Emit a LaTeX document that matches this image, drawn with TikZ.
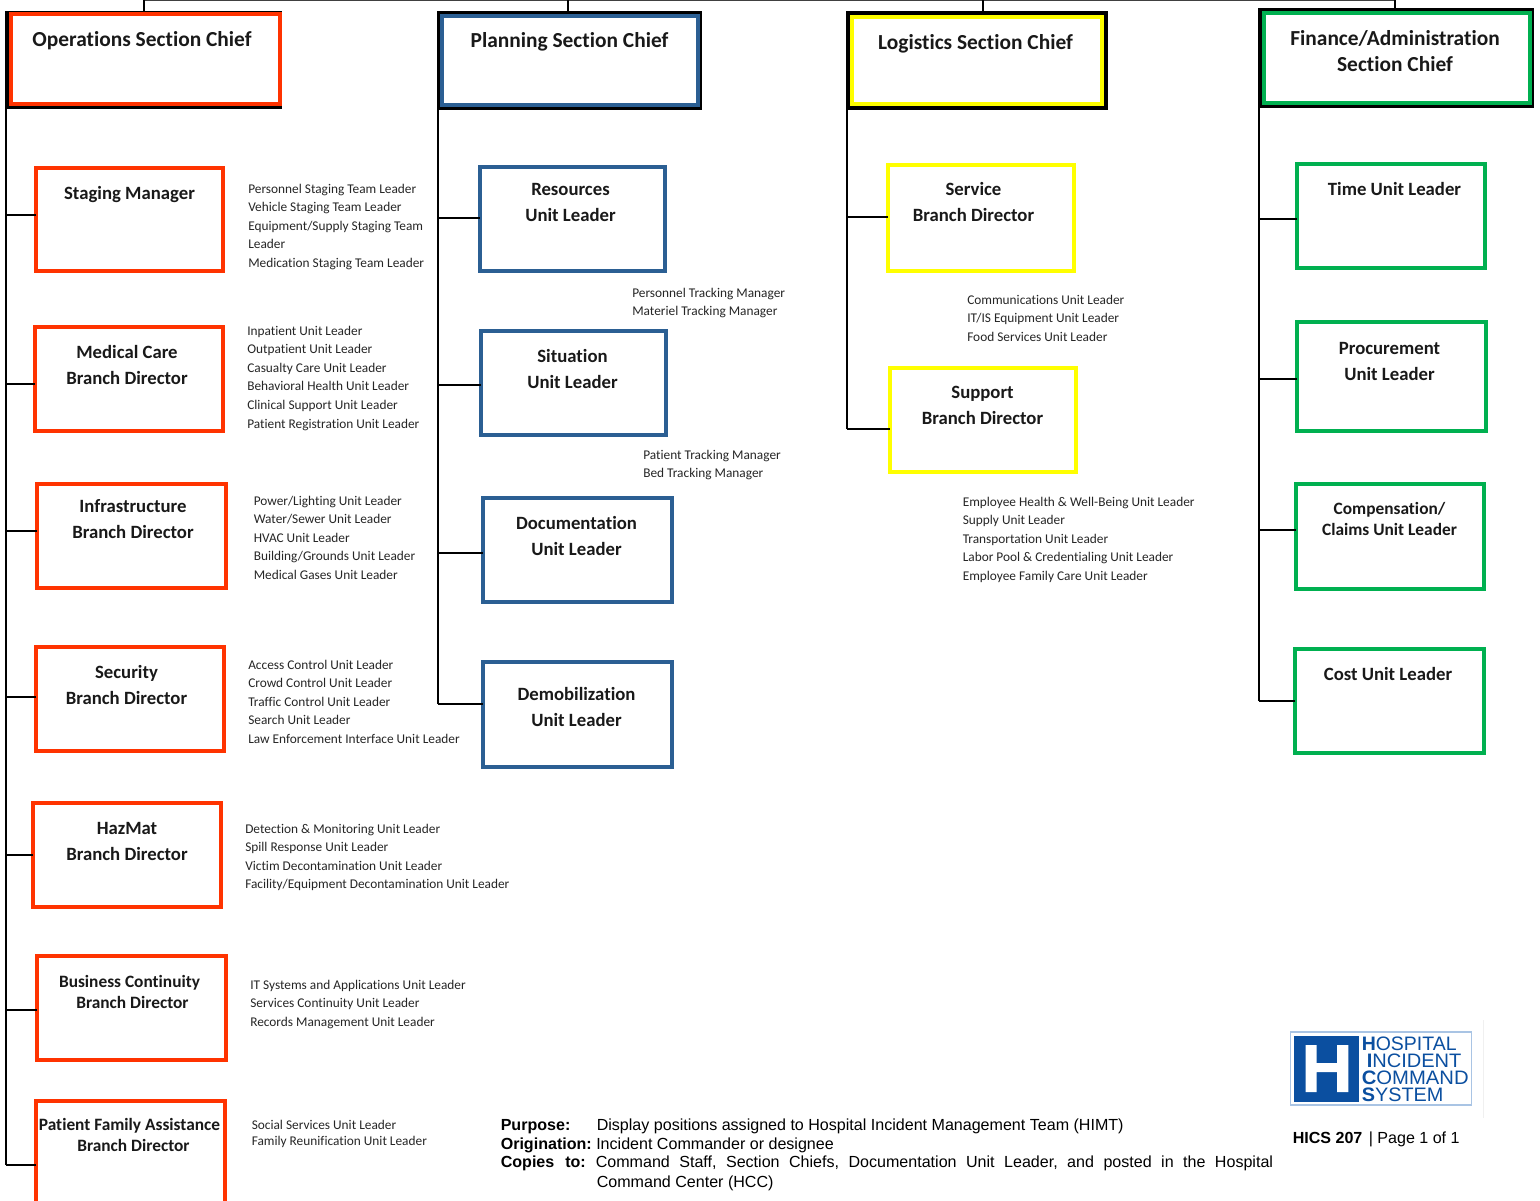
\documentclass[tikz,border=0pt]{standalone}
\usepackage{fontspec}
\usepackage{graphicx}
\setmainfont[Ligatures=NoCommon]{Carlito}
\newfontfamily\arialf{Liberation Sans}
\definecolor{hred}{HTML}{FF3300}
\definecolor{hblue}{HTML}{2B5F93}
\definecolor{hyellow}{HTML}{FFFF00}
\definecolor{hgreen}{HTML}{00B050}
\definecolor{logoblue}{HTML}{0B4FA0}
\definecolor{logoframe}{HTML}{A9C4E4}
\newcommand{\bx}[6]{\node[boxstyle,draw=#6,minimum width={(#4-#2-4)*0.75pt},minimum height={(#5-#3-4)*0.75pt}] (#1) at ({(#2+#4)/2},{(#3+#5)/2}) {};}
\newcommand{\chief}[6]{\node[chiefouter,minimum width={(#4-#2)*0.75pt},minimum height={(#5-#3)*0.75pt}] (#1) at ({(#2+#4)/2},{(#3+#5)/2}) {};}
\newcommand{\chiefin}[6]{\node[boxstyle,draw=#6,minimum width={(#4-#2-4)*0.75pt},minimum height={(#5-#3-4)*0.75pt}] (#1) at ({(#2+#4)/2},{(#3+#5)/2}) {};}
\tikzset{
  boxstyle/.style={rectangle,fill=white,line width=3pt,inner sep=0pt,outer sep=0pt},
  chiefouter/.style={rectangle,fill=black,inner sep=0pt,outer sep=0pt},
  title/.style={align=center,font=\fontsize{14.05pt}{19.5pt}\selectfont\bfseries,inner sep=0pt,text=black!90},
  titletight/.style={title,font=\fontsize{13pt}{15.75pt}\selectfont\bfseries},
  chieftitle/.style={title,font=\fontsize{16.05pt}{19.5pt}\selectfont\bfseries},
  items/.style={align=left,anchor=north west,inner sep=0pt,font=\fontsize{10pt}{13.95pt}\selectfont,text=black!85},
  conn/.style={line width=1.5pt,black},
  topline/.style={line width=1.1pt,black!75},
  foot/.style={anchor=base west,inner sep=0pt,font=\arialf\fontsize{12.05pt}{14pt}\selectfont},
  logotext/.style={anchor=base west,inner sep=0pt,text=logoblue,font=\arialf\fontsize{14.6pt}{14.6pt}\selectfont},
}
\begin{document}
\begin{tikzpicture}[x=0.75pt,y=-0.75pt]
\clip (0,0) rectangle (1540,1201);
\fill[white] (0,0) rectangle (1540,1201);
% top connector and drops
\coordinate (top1) at (144,0.5);
\coordinate (top2) at (568,0.5);
\coordinate (top3) at (983,0.5);
\coordinate (top4) at (1395,0.5);
\draw[topline] (top1) -- (top4);
% chiefs
\chief{opsout}{5}{11}{282}{109}{}
\chief{planout}{437}{11}{702}{110}{}
\chief{logout}{846}{11}{1108}{110}{}
\chief{finout}{1258}{8}{1534}{108}{}
\draw[conn] (top1) -- (top1 |- opsout.north);
\draw[conn] (top2) -- (top2 |- planout.north);
\draw[conn] (top3) -- (top3 |- logout.north);
\draw[conn] (top4) -- (top4 |- finout.north);
\chiefin{ops}{9}{12.5}{282}{106.5}{hred}
\chiefin{plan}{440}{14}{700}{107}{hblue}
\chiefin{log}{850}{15}{1104}{106}{hyellow}
\chiefin{fin}{1262}{11}{1532}{105}{hgreen}
\node[chieftitle] (opst) at (142,40.5) {Operations Section Chief};
\node[chieftitle] (plant) at (569.5,42) {Planning Section Chief};
\node[chieftitle] (logt) at (975.5,44) {Logistics Section Chief};
\node[chieftitle] (fint) at (1395,51) {Finance/Administration\\Section Chief};
% trunks
\coordinate (opsend) at (6.5,1165);
\coordinate (planend) at (438.5,704);
\coordinate (logend) at (847.5,429);
\coordinate (finend) at (1259.5,701);
% ops boxes
\bx{staging}{34}{166}{225}{273}{hred}
\bx{medical}{33}{325}{225}{433}{hred}
\bx{infra}{35}{482}{228}{590}{hred}
\bx{security}{34}{645}{226}{753}{hred}
\bx{hazmat}{31}{801}{223}{909}{hred}
\bx{business}{35}{954}{228}{1062}{hred}
\bx{patient}{34}{1099}{227}{1225}{hred}
% planning boxes
\bx{resources}{478}{165}{667}{273}{hblue}
\bx{situation}{479}{329}{668}{437}{hblue}
\bx{documentation}{481}{496}{674}{604}{hblue}
\bx{demob}{481}{660}{674}{769}{hblue}
% logistics boxes
\bx{service}{886}{163}{1076}{273}{hyellow}
\bx{support}{888}{366}{1078}{474}{hyellow}
% finance boxes
\bx{time}{1295}{162}{1487}{270}{hgreen}
\bx{procurement}{1295}{320}{1488}{433}{hgreen}
\bx{compensation}{1294}{482}{1486}{591}{hgreen}
\bx{cost}{1293}{647}{1486}{755}{hgreen}
% trunks drawn from named anchors
\draw[conn] (opsend -| opsout.west) ++(0.5,0) coordinate (opsb) -- (opsb |- opsout.south);
\draw[conn] (planend -| planout.west) ++(0.5,0) coordinate (planb) -- (planb |- planout.south);
\draw[conn] (logend -| logout.west) ++(0.5,0) coordinate (logb) -- (logb |- logout.south);
\draw[conn] (finend -| finout.west) ++(0.5,0) coordinate (finb) -- (finb |- finout.south);
% branches
\foreach \n/\y in {staging/215.5,medical/384.5,infra/530.5,security/696.5,hazmat/854.5,business/1009.5,patient/1164.5}
  \draw[conn] (opsb |- 0,\y) -- (\n.west |- 0,\y);
\foreach \n/\y in {resources/218.5,situation/385.5,documentation/552.5,demob/703.5}
  \draw[conn] (planb |- 0,\y) -- (\n.west |- 0,\y);
\foreach \n/\y in {service/217.5,support/428.5}
  \draw[conn] (logb |- 0,\y) -- (\n.west |- 0,\y);
\foreach \n/\y in {time/219.5,procurement/379.5,compensation/529.5,cost/700.5}
  \draw[conn] (finb |- 0,\y) -- (\n.west |- 0,\y);
% box titles
\node[title] (stagingt) at (129.5,195) {Staging Manager};
\node[title] (medicalt) at (127,365) {Medical Care\\Branch Director};
\node[title] (infrat) at (133,519) {Infrastructure\\Branch Director};
\node[title] (securityt) at (126.5,685) {Security\\Branch Director};
\node[title] (hazmatt) at (127,841.5) {HazMat\\Branch Director};
\node[titletight] (businesst) at (129.5,991.5) {Business Continuity\\\hspace*{4.5pt}Branch Director};
\node[titletight] (patientt) at (129.5,1135) {Patient Family Assistance\\\hspace*{6pt}Branch Director};
\node[title] (resourcest) at (570.5,202.5) {Resources\\Unit Leader};
\node[title] (situationt) at (572.5,369) {Situation\\Unit Leader};
\node[title] (documentationt) at (576.5,536) {Documentation\\Unit Leader};
\node[title] (demobt) at (576.5,707) {Demobilization\\Unit Leader};
\node[title] (servicet) at (973.5,202) {Service\\Branch Director};
\node[title] (supportt) at (982.5,405.5) {Support\\Branch Director};
\node[title] (timet) at (1394.5,188.5) {Time Unit Leader};
\node[title] (procurementt) at (1389.5,361.5) {Procurement\\Unit Leader};
\node[titletight] (compensationt) at (1389.5,519) {Compensation/\\Claims Unit Leader};
\node[title] (costt) at (1388,674) {Cost Unit Leader};
% item lists
\node[items] (l1) at (248,183.5) {Personnel Staging Team Leader\\Vehicle Staging Team Leader\\Equipment/Supply Staging Team\\Leader\\Medication Staging Team Leader};
\node[items] (l2) at (247,325.5) {Inpatient Unit Leader\\Outpatient Unit Leader\\Casualty Care Unit Leader\\Behavioral Health Unit Leader\\Clinical Support Unit Leader\\Patient Registration Unit Leader};
\node[items] (l3) at (253.5,495.5) {Power/Lighting Unit Leader\\Water/Sewer Unit Leader\\HVAC Unit Leader\\Building/Grounds Unit Leader\\Medical Gases Unit Leader};
\node[items] (l4) at (248,659.5) {Access Control Unit Leader\\Crowd Control Unit Leader\\Traffic Control Unit Leader\\Search Unit Leader\\Law Enforcement Interface Unit Leader};
\node[items] (l5) at (245,823.5) {Detection \& Monitoring Unit Leader\\Spill Response Unit Leader\\Victim Decontamination Unit Leader\\Facility/Equipment Decontamination Unit Leader};
\node[items] (l6) at (250,979.5) {IT Systems and Applications Unit Leader\\Services Continuity Unit Leader\\Records Management Unit Leader};
\node[items,font=\fontsize{10pt}{12pt}\selectfont] (l7) at (251.5,1119.5) {Social Services Unit Leader\\Family Reunification Unit Leader};
\node[items] (p1) at (632,287.5) {Personnel Tracking Manager\\Materiel Tracking Manager};
\node[items] (p2) at (643,449.5) {Patient Tracking Manager\\Bed Tracking Manager};
\node[items] (s1) at (967,294.5) {Communications Unit Leader\\IT/IS Equipment Unit Leader\\Food Services Unit Leader};
\node[items] (s2) at (962.5,496.5) {Employee Health \& Well-Being Unit Leader\\Supply Unit Leader\\Transportation Unit Leader\\Labor Pool \& Credentialing Unit Leader\\Employee Family Care Unit Leader};
% footer
\node[foot] (f1a) at (500.5,1130) {\bfseries Purpose:};
\node[foot] (f1b) at (596.5,1130) {Display positions assigned to Hospital Incident Management Team (HIMT)};
\node[foot] (f2a) at (500.5,1149) {\bfseries Origination:};
\node[foot] (f2b) at (596,1149) {Incident Commander or designee};
\node[foot] (f3a) at (500.5,1167) {\makebox[63.75pt][s]{\bfseries Copies\hfill to:}};
\node[foot] (f3b) at (595.5,1167) {\makebox[508pt][s]{Command\hfill Staff,\hfill Section\hfill Chiefs,\hfill Documentation\hfill Unit\hfill Leader,\hfill and\hfill posted\hfill in\hfill the\hfill Hospital}};
\node[foot] (f4b) at (596.5,1187) {Command Center (HCC)};
% logo
\draw[black!6,line width=0.75pt] (1483,1020) coordinate (rule1) -- (1483,1118) coordinate (rule2);
\node[rectangle,draw=logoframe,line width=0.9pt,fill=white,inner sep=0pt,minimum width={181*0.75pt},minimum height={73*0.75pt}] (logo) at (1381,1068.5) {};
\node[rectangle,fill=logoblue,inner sep=0pt,minimum width={65.5*0.75pt},minimum height={66*0.75pt}] (logosq) at (1326.5,1068.5) {};
\fill[white] (1305.7,1045) -- (1316.7,1045) -- (1316.7,1063) -- (1337,1063) -- (1337,1045) -- (1348.3,1045) -- (1348.3,1092) -- (1337,1092) -- (1337,1072) -- (1316.7,1072) -- (1316.7,1092) -- (1305.7,1092) -- cycle;
\node[logotext] (lg1) at (1361.5,1050) {\textbf{H}OSPITAL};
\node[logotext] (lg2) at (1366.5,1067.5) {\scalebox{1.03}[1]{\textbf{I}NCIDENT}};
\node[logotext] (lg3) at (1361.5,1084.5) {\scalebox{1.04}[1]{\textbf{C}OMMAND}};
\node[logotext] (lg4) at (1361.5,1101) {\scalebox{1.02}[1]{\textbf{S}YSTEM}};
\node[foot] (hics) at (1292.5,1143) {\textbf{HICS 207}};
\node[foot] (page) at (1368.5,1143) {| Page 1 of 1};
\end{tikzpicture}
\end{document}
